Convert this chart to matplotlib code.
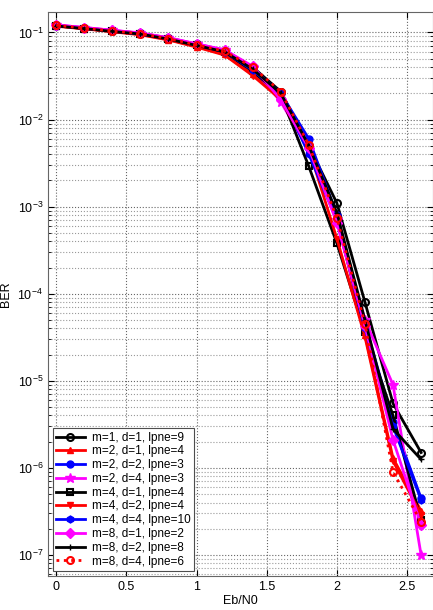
import numpy as np
import matplotlib
matplotlib.use("Agg")
import matplotlib.pyplot as plt

plt.rcParams['font.family'] = ['Liberation Sans', 'DejaVu Sans']

# Eb/N0 values
ebn0 = [0, 0.2, 0.4, 0.6, 0.8, 1.0, 1.2, 1.4, 1.6, 1.8, 2.0, 2.2, 2.4, 2.6]

# BER curves
ber_m1_d1 = [0.121, 0.113, 0.105, 0.098, 0.086, 0.073, 0.062, 0.040, 0.021, 0.0050, 1.1e-3, 8.0e-5, 5.5e-6, 1.5e-6]
ber_m2_d1 = [0.120, 0.111, 0.103, 0.095, 0.083, 0.069, 0.056, 0.033, 0.018, 0.0048, 7.5e-4, 3.4e-5, 1.3e-6, 3.2e-7]
ber_m2_d2 = [0.120, 0.112, 0.104, 0.097, 0.085, 0.072, 0.061, 0.038, 0.020, 0.0060, 8.0e-4, 4.5e-5, 3.4e-6, 4.5e-7]
ber_m2_d4 = [0.122, 0.114, 0.106, 0.099, 0.087, 0.074, 0.063, 0.039, 0.016, 0.0045, 7.0e-4, 5.0e-5, 9.0e-6, 1.0e-7]
ber_m4_d1 = [0.119, 0.111, 0.103, 0.096, 0.084, 0.071, 0.059, 0.036, 0.019, 0.0029, 3.8e-4, 3.6e-5, 4.0e-6, 2.5e-7]
ber_m4_d2 = [0.118, 0.110, 0.102, 0.094, 0.082, 0.068, 0.055, 0.032, 0.017, 0.0046, 4.3e-4, 3.2e-5, 1.2e-6, 2.9e-7]
ber_m4_d4 = [0.120, 0.112, 0.104, 0.096, 0.085, 0.072, 0.060, 0.037, 0.020, 0.0040, 7.0e-4, 4.0e-5, 3.0e-6, 4.3e-7]
ber_m8_d1 = [0.122, 0.114, 0.106, 0.098, 0.087, 0.074, 0.063, 0.041, 0.017, 0.0047, 6.5e-4, 4.3e-5, 2.1e-6, 2.2e-7]
ber_m8_d2 = [0.119, 0.111, 0.103, 0.096, 0.084, 0.071, 0.060, 0.038, 0.020, 0.0050, 8.5e-4, 5.0e-5, 2.8e-6, 1.25e-6]
ber_m8_d4 = [0.121, 0.112, 0.104, 0.097, 0.085, 0.072, 0.061, 0.040, 0.021, 0.0051, 7.4e-4, 4.5e-5, 9.0e-7, 2.4e-7]

labels = ["m=1, d=1, lpne=9", "m=2, d=1, lpne=4", "m=2, d=2, lpne=3",
          "m=2, d=4, lpne=3", "m=4, d=1, lpne=4", "m=4, d=2, lpne=4",
          "m=4, d=4, lpne=10", "m=8, d=1, lpne=2", "m=8, d=2, lpne=8",
          "m=8, d=4, lpne=6"]
series = [ber_m1_d1, ber_m2_d1, ber_m2_d2, ber_m2_d4, ber_m4_d1,
          ber_m4_d2, ber_m4_d4, ber_m8_d1, ber_m8_d2, ber_m8_d4]

K, R, B, M = "#000000", "#ff0000", "#0000ff", "#ff00ff"
# colour, marker, linestyle, filled?
styles = [(K, "o", "-", False),
          (R, "^", "-", True),
          (B, "o", "-", True),
          (M, "*", "-", True),
          (K, "s", "-", False),
          (R, "v", "-", True),
          (B, "h", "-", True),
          (M, "D", "-", True),
          (K, "+", "-", True),
          (R, "o", ":", False)]

fig = plt.figure(figsize=(4.33, 6.10), dpi=100)
ax = fig.add_axes([0.111, 0.056, 0.889, 0.925])

for y, lab, (c, mk, ls, filled) in zip(series, labels, styles):
    ms = 5 if mk != "*" else 7
    ax.semilogy(ebn0, y, color=c, marker=mk, linestyle=ls, linewidth=2,
                markersize=ms, markeredgewidth=1.5 if not filled else 1,
                markerfacecolor=c if filled else "none", label=lab)

ax.set_xlim(-0.058, 2.685)
ax.set_ylim(10**-7.24, 10**-0.76)
ax.set_xticks([0, 0.5, 1, 1.5, 2, 2.5])
ax.set_xticklabels(["0", "0.5", "1", "1.5", "2", "2.5"])

ax.grid(True, which="major", linestyle=":", color="0.4", linewidth=0.8)
ax.grid(True, which="minor", axis="y", linestyle=":", color="0.6", linewidth=0.8)
ax.tick_params(which="both", direction="in", top=True, right=True, labelsize=9)
ax.tick_params(which="major", length=4)
ax.tick_params(which="minor", length=2)
for s in ax.spines.values():
    s.set_color("0.4")

ax.set_xlabel("Eb/N0", fontsize=9, labelpad=2)
ax.set_ylabel("BER", fontsize=9, labelpad=4)

leg = ax.legend(loc="lower left", fontsize=8.5, handlelength=2.4, fancybox=False,
                edgecolor="0.3", framealpha=1, borderpad=0.3, labelspacing=0.15,
                handletextpad=0.6, borderaxespad=0.4)
leg.get_frame().set_linewidth(0.8)

fig.savefig("out.png", dpi=100)
